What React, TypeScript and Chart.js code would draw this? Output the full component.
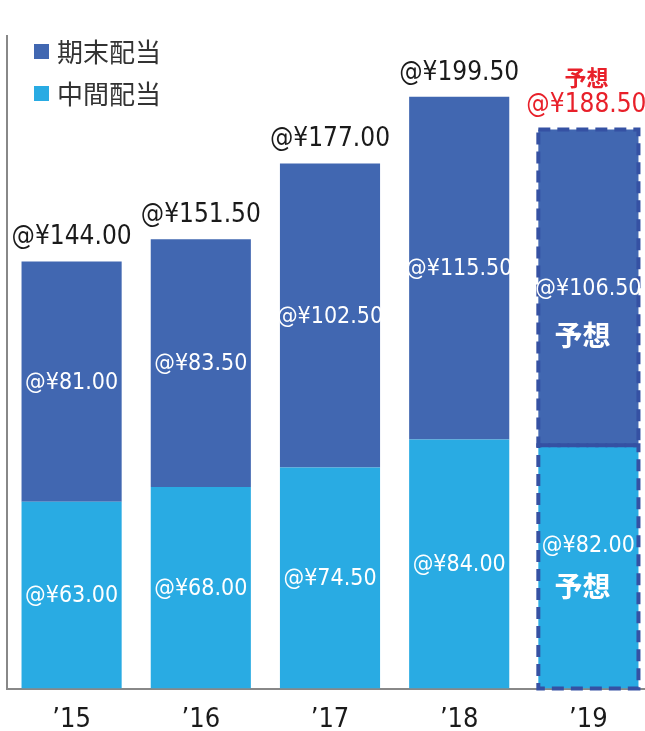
import React, { useEffect, useRef } from "react";
import { Chart, registerables } from "chart.js";

Chart.register(...registerables);

const categories = ["’15", "’16", "’17", "’18", "’19"];
const interimDividends = [63, 68, 74.5, 84, 82];
const yearEndDividends = [81, 83.5, 102.5, 115.5, 106.5];
const totalDividends = [144, 151.5, 177, 199.5, 188.5];
const isForecast = [false, false, false, false, true];
const seriesNames = ["期末配当", "中間配当"];
const forecastLabel = "予想";

const DARK = "#4167b1";
const LIGHT = "#29abe3";
const DASH = "#3551a3";
const NUM_FONT = "'Liberation Sans Narrow', 'DejaVu Sans Condensed', 'Roboto', 'Noto Sans CJK JP', sans-serif";
const JP_FONT = "'Noto Sans CJK JP', sans-serif";

const fmt = (v: number) => `@¥${v.toFixed(2)}`;

const overlayPlugin = {
  id: "overlay",
  afterDatasetsDraw(chart: any) {
    const ctx = chart.ctx as CanvasRenderingContext2D;
    const metaLow = chart.getDatasetMeta(0);
    const metaHigh = chart.getDatasetMeta(1);
    ctx.save();
    // dashed borders on forecast bars
    categories.forEach((_, j) => {
      if (!isForecast[j]) return;
      [metaLow, metaHigh].forEach((meta: any) => {
        const el = meta.data[j];
        const half = el.width / 2;
        const top = Math.min(el.y, el.base);
        const h = Math.abs(el.base - el.y);
        ctx.setLineDash([12, 7]);
        ctx.lineWidth = 4;
        ctx.strokeStyle = DASH;
        ctx.strokeRect(el.x - half, top, el.width, h);
      });
    });
    ctx.setLineDash([]);
    ctx.textAlign = "center";
    ctx.textBaseline = "middle";
    // segment labels
    [metaLow, metaHigh].forEach((meta: any, di: number) => {
      const values = di === 0 ? interimDividends : yearEndDividends;
      meta.data.forEach((el: any, j: number) => {
        const c = (el.y + el.base) / 2;
        ctx.fillStyle = "#ffffff";
        ctx.font = `23px ${NUM_FONT}`;
        if (isForecast[j]) {
          const vOff = di === 0 ? -21 : 2;
          const fOff = di === 0 ? 19 : 48;
          ctx.fillText(fmt(values[j]), el.x, c + vOff);
          ctx.font = `bold 28px ${JP_FONT}`;
          ctx.fillText(forecastLabel, el.x - 6, c + fOff);
        } else {
          ctx.fillText(fmt(values[j]), el.x, c + 1);
        }
      });
    });
    // totals
    metaHigh.data.forEach((el: any, j: number) => {
      const top = el.y;
      if (isForecast[j]) {
        ctx.fillStyle = "#e8202a";
        ctx.font = `26px ${NUM_FONT}`;
        ctx.fillText(fmt(totalDividends[j]), el.x - 2, top - 24);
        ctx.font = `bold 22px ${JP_FONT}`;
        ctx.fillText(forecastLabel, el.x - 2, top - 52);
      } else {
        ctx.fillStyle = "#1a1a1a";
        ctx.font = `26px ${NUM_FONT}`;
        ctx.fillText(fmt(totalDividends[j]), el.x, top - 24);
      }
    });
    // legend
    const legendColors = [DARK, LIGHT];
    const legendY = [52, 94];
    seriesNames.forEach((name, i) => {
      ctx.fillStyle = legendColors[i];
      ctx.fillRect(34, legendY[i] - 8, 15, 15);
      ctx.fillStyle = "#333333";
      ctx.textAlign = "left";
      ctx.font = `26px ${JP_FONT}`;
      ctx.fillText(name, 57, legendY[i]);
    });
    ctx.restore();
  },
};

export default function App() {
  const ref = useRef<HTMLCanvasElement | null>(null);
  useEffect(() => {
    if (!ref.current) return;
    const chart = new Chart(ref.current, {
      type: "bar",
      data: {
        labels: categories,
        datasets: [
          { label: seriesNames[1], data: interimDividends, backgroundColor: LIGHT, borderWidth: 0 },
          { label: seriesNames[0], data: yearEndDividends, backgroundColor: DARK, borderWidth: 0 },
        ],
      },
      options: {
        animation: false,
        responsive: false,
        maintainAspectRatio: false,
        datasets: { bar: { barPercentage: 0.775, categoryPercentage: 1 } },
        layout: { padding: { left: 7, top: 36, right: 0, bottom: 0 } },
        plugins: { legend: { display: false }, tooltip: { enabled: false } },
        scales: {
          x: {
            stacked: true,
            grid: { display: false, drawTicks: false },
            border: { display: true, color: "#888888", width: 2 },
            ticks: { color: "#1a1a1a", padding: 15, font: { size: 27, family: NUM_FONT } },
          },
          y: {
            stacked: true,
            min: 0,
            max: 220,
            grid: { display: false, drawTicks: false },
            border: { display: true, color: "#888888", width: 2 },
            ticks: { display: false },
          },
        },
      },
      plugins: [overlayPlugin],
    });
    return () => chart.destroy();
  }, []);
  return (
    <div style={{ position: "absolute", left: 0, top: 0, width: 645, height: 731, overflow: "hidden", background: "#fff" }}>
      <canvas ref={ref} width={653} height={751} style={{ display: "block" }} />
    </div>
  );
}
